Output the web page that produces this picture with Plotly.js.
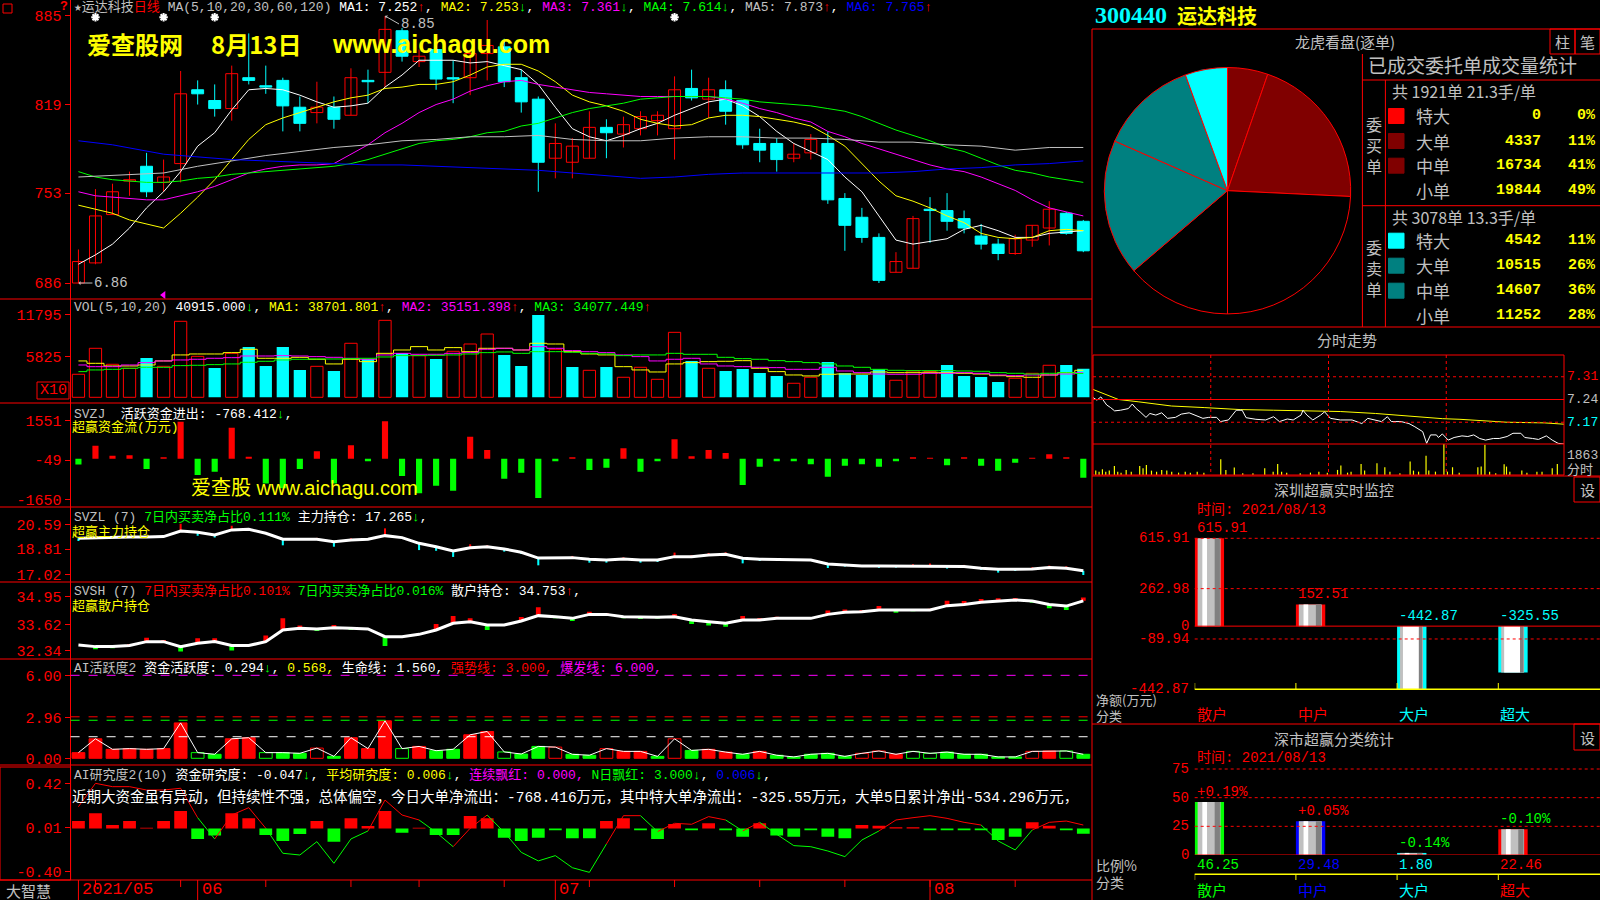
<!DOCTYPE html>
<html><head><meta charset="utf-8">
<script src="https://cdn.plot.ly/plotly-3.0.1.min.js"></script>
<style>html,body{margin:0;padding:0;background:#000;overflow:hidden}#chart{width:1600px;height:900px}</style>
</head><body><div id="chart"></div>
<script>
// ================= DATA =================
const dates=['2021-05-21','2021-05-24','2021-05-25','2021-05-26','2021-05-27','2021-05-28','2021-05-31','2021-06-01','2021-06-02','2021-06-03','2021-06-04','2021-06-07','2021-06-08','2021-06-09','2021-06-10','2021-06-11','2021-06-15','2021-06-16','2021-06-17','2021-06-18','2021-06-21','2021-06-22','2021-06-23','2021-06-24','2021-06-25','2021-06-28','2021-06-29','2021-06-30','2021-07-01','2021-07-02','2021-07-05','2021-07-06','2021-07-07','2021-07-08','2021-07-09','2021-07-12','2021-07-13','2021-07-14','2021-07-15','2021-07-16','2021-07-19','2021-07-20','2021-07-21','2021-07-22','2021-07-23','2021-07-26','2021-07-27','2021-07-28','2021-07-29','2021-07-30','2021-08-02','2021-08-03','2021-08-04','2021-08-05','2021-08-06','2021-08-09','2021-08-10','2021-08-11','2021-08-12','2021-08-13'];
const open=[6.86,7.01,7.37,7.62,7.73,7.61,7.75,8.30,8.22,8.16, 8.39,8.33,8.37,8.17,8.13,8.17,8.11,8.37,8.43,8.74, 8.51,8.60,8.39,8.39,8.57,8.62,8.39,8.23,7.79,7.76, 7.79,8.02,7.97,8.01,8.07,8.01,8.31,8.23,8.30,8.22, 7.90,7.90,7.79,7.83,7.90,7.49,7.35,7.20,6.94,6.97, 7.41,7.40,7.34,7.21,7.15,7.08,7.18,7.27,7.38,7.32];
const high=[7.11,7.56,7.60,7.69,7.83,7.78,8.44,8.37,8.34,8.48, 8.72,8.48,8.39,8.25,8.36,8.25,8.46,8.45,8.85,8.76, 8.60,8.63,8.52,8.60,8.82,8.68,8.45,8.25,8.05,7.94, 8.14,8.08,8.10,8.14,8.14,8.40,8.45,8.39,8.37,8.22, 8.01,7.94,7.90,7.97,7.99,7.53,7.42,7.23,7.09,7.36, 7.50,7.53,7.40,7.30,7.19,7.22,7.29,7.47,7.39,7.33];
const low=[6.86,7.00,7.37,7.51,7.50,7.54,7.61,8.19,8.10,8.07, 8.34,8.27,7.99,7.99,8.05,8.01,8.11,8.20,8.32,8.51, 8.47,8.30,8.20,8.26,8.37,8.32,8.13,7.54,7.64,7.64, 7.79,7.79,7.87,7.96,7.96,7.78,8.22,8.09,8.04,7.86, 7.76,7.69,7.76,7.78,7.45,7.10,7.16,6.86,6.94,6.97, 7.16,7.25,7.23,7.11,7.03,7.07,7.13,7.14,7.22,7.09];
const close=[7.02,7.36,7.54,7.63,7.54,7.65,8.27,8.27,8.16,8.42, 8.37,8.32,8.18,8.05,8.17,8.08,8.39,8.36,8.75,8.55, 8.55,8.38,8.38,8.57,8.63,8.36,8.21,7.76,7.90,7.88, 8.02,7.98,8.04,8.10,8.11,8.30,8.24,8.30,8.14,7.89, 7.85,7.78,7.82,7.93,7.48,7.29,7.20,6.88,7.02,7.34, 7.40,7.32,7.27,7.15,7.08,7.19,7.29,7.41,7.23,7.10];
const ma5=[7.00,7.07,7.15,7.27,7.42,7.54,7.69,7.88,7.98,8.15, 8.30,8.31,8.30,8.26,8.21,8.17,8.18,8.20,8.32,8.41, 8.52,8.52,8.52,8.50,8.51,8.48,8.45,8.34,8.17,8.01, 7.95,7.92,7.96,8.01,8.05,8.11,8.16,8.21,8.23,8.18, 8.10,7.99,7.90,7.84,7.78,7.65,7.54,7.36,7.18,7.15, 7.17,7.19,7.26,7.29,7.25,7.20,7.20,7.23,7.24,7.25];
const ma10=[7.44,7.41,7.38,7.33,7.30,7.27,7.38,7.50,7.63,7.78, 7.93,8.04,8.09,8.13,8.17,8.21,8.24,8.26,8.31,8.32, 8.34,8.34,8.36,8.41,8.47,8.49,8.49,8.44,8.36,8.26, 8.21,8.18,8.14,8.08,8.05,8.03,8.04,8.09,8.11,8.11, 8.10,8.08,8.06,8.03,7.96,7.88,7.75,7.62,7.51,7.47, 7.42,7.36,7.31,7.23,7.20,7.19,7.20,7.25,7.26,7.25];
const ma20=[7.54,7.51,7.50,7.49,7.48,7.48,7.51,7.54,7.58,7.63, 7.68,7.71,7.73,7.74,7.74,7.75,7.82,7.89,7.98,8.05, 8.13,8.19,8.23,8.29,8.33,8.36,8.37,8.34,8.32,8.30, 8.28,8.27,8.26,8.25,8.25,8.25,8.25,8.25,8.23,8.20, 8.16,8.13,8.09,8.06,7.99,7.95,7.90,7.86,7.82,7.78, 7.74,7.71,7.69,7.65,7.60,7.55,7.48,7.42,7.39,7.36];
const ma30=[7.69,7.65,7.63,7.62,7.61,7.61,7.62,7.64,7.65,7.67, 7.68,7.69,7.70,7.71,7.72,7.73,7.75,7.78,7.82,7.86, 7.90,7.92,7.93,7.95,7.98,7.99,8.03,8.05,8.09,8.13, 8.16,8.18,8.20,8.23,8.24,8.25,8.25,8.25,8.24,8.23, 8.21,8.20,8.19,8.18,8.16,8.14,8.10,8.05,8.00,7.96, 7.92,7.87,7.84,7.79,7.74,7.70,7.68,7.65,7.63,7.61];
const ma60=[7.65,null,7.66,null,null,7.68,null,7.73,null,7.77, null,7.81,null,7.84,null,7.87,null,7.89,null,7.92, null,7.93,null,7.95,null,7.95,null,7.96,null,7.93, null,7.92,null,7.92,null,7.94,null,7.95,null,7.95, null,7.94,null,7.94,null,7.93,null,7.91,null,7.91, null,7.89,null,7.88,null,7.85,null,7.87,null,7.87];
const ma120=[7.92,null,7.89,null,null,7.82,null,7.80,null,7.78, null,7.77,null,7.76,null,7.75,null,7.74,null,7.74, null,7.73,null,7.72,null,7.71,null,7.70,null,7.68, null,7.66,null,7.64,null,7.65,null,7.67,null,7.68, null,7.68,null,7.68,null,7.68,null,7.68,null,7.69, null,7.71,null,7.72,null,7.74,null,7.75,null,7.77];
const maLast=['7.252','7.253','7.361','7.614','7.873','7.765'];
const maUp=[true,false,false,false,true,true];
const priceTicks=[8.85,8.19,7.53,6.86], priceTickText=['885','819','753','686'];
const starDays=[1,5,8,35];
const markDays=[5];

const vol=[3300,7020,4730,4160,5640,4440,10890,5870,4200,6300, 7210,4490,7210,3920,4440,3770,7740,5490,11030,6350, 5970,5490,6590,7640,9070,6070,4490,11800,6880,4350, 3870,4350,2870,4300,2580,9310,5210,4160,3770,4060, 3490,3060,2010,2870,5060,3440,3200,4010,2440,3770, 3680,4630,3060,2910,2200,2720,3440,4590,4630,4092];
const volDir='RRRRCRRRCRCCCCRCRCRCRCRRRCCC'+'RCRCRRRRCRCCCCRRCCCCRRRCCCCRRRC'+'C';
const volMa5=[5210,4870,4490,4490,4630,5210,6070,6210,6210,6400, 6880,5590,5590,5730,5450,4780,5450,5110,6300,6780, 7260,6780,7120,6540,7020,7020,6780,7740,7640,6540, 6210,6070,4390,3920,3630,4780,4970,5110,5160,5250, 4160,3680,3200,3060,3300,3340,3340,3630,3530,3530, 3580,3530,3440,3340,3100,2960,2870,3200,3530,3870];
const volMa10=[4630,4390,4390,4630,4970,5210,5350,5450,5590,5680, 5920,5920,5970,5920,5830,5730,5590,5450,6070,6300, 6160,6160,6300,6400,6880,7020,6780,7260,7020,6690, 6540,6400,6070,5830,5210,5450,5590,4780,4490,4390, 4300,4250,4010,4010,4300,3770,3530,3340,3300,3300, 3440,3440,3530,3440,3200,3100,3200,3200,3340,3515];
const volMa20=[3680,3920,4010,4160,4300,4300,4540,4590,4680,4780, 5020,5160,5350,5450,5490,5490,5540,5590,5780,5970, 5970,6020,6070,6210,6400,6500,6300,6540,6540,6450, 6300,6210,5970,6070,6070,6300,6160,6160,5730,5540, 5450,5250,5110,4970,4780,4490,4300,4010,3870,3820, 3820,3820,3770,3730,3530,3440,3340,3440,3530,3408];
const volTicks=[11795,5825];

const svzj=[-230,529,122,149,-420,68,1505,-664,-529,1261, 81,-1003,-1200,-420,312,-1003,556,-95,1532,-705, -1400,-1100,-1300,895,353,-814,-570,-1600,-95,68, -461,-366,434,-529,-95,800,108,353,231,-1071, -325,-95,-95,-217,-732,-285,-217,-325,-95,68, 41,-258,68,-285,-488,-163,41,190,68,-768];
const svzjTicks=[1551,-49,-1650];

const svzl=[19.59,19.64,19.69,19.69,19.69,19.71,20.11,20.02,19.83,20.19, 20.23,19.95,19.52,19.52,19.52,19.35,19.47,19.52,19.78,19.64, 19.23,18.99,18.69,18.92,18.99,18.83,18.59,18.18,18.21,18.21, 18.09,18.04,18.11,18.04,18.04,18.28,18.28,18.40,18.45,18.16, 18.09,18.09,18.04,18.04,17.76,17.69,17.62,17.62,17.62,17.62, 17.62,17.62,17.57,17.45,17.38,17.38,17.40,17.50,17.45,17.27];
const svzlTick=[-0.19,0,0,0,0,0,0.52,-0.24,-0.19,0.29, 0,0,-0.43,0,0.1,-0.36,0.12,0,0.52,0, -0.48,-0.29,-0.43,0.24,0.1,-0.19,-0.12,-0.52,0,0.12, -0.24,-0.19,0.12,-0.19,-0.14,0.29,0.12,0.14,0.14,-0.36, -0.12,-0.12,0,0,-0.29,-0.12,0,-0.14,-0.12,0.12, 0.17,-0.19,0.12,-0.12,-0.24,-0.12,0.12,0.14,0.14,-0.3];
const svzlTicks=[20.59,18.81,17.02];

const svsh=[32.63,32.55,32.55,32.60,32.79,32.79,32.55,32.71,32.79,32.60, 32.60,32.79,33.35,33.43,33.40,33.46,33.43,33.40,33.03,33.03, 33.14,33.35,33.67,33.75,33.59,33.59,33.78,34.04,33.99,33.91, 34.10,34.10,33.99,33.96,33.96,33.99,33.83,33.75,33.67,33.83, 33.83,33.91,33.91,33.91,34.10,34.20,34.23,34.31,34.31,34.31, 34.31,34.52,34.58,34.68,34.74,34.79,34.74,34.58,34.50,34.75];
const svshTick=[0,-0.13,-0.08,0.08,0.19,0.08,-0.24,0.24,0.16,-0.24, 0,0.29,0.56,0.13,-0.1,0.13,-0.08,0,-0.45,0, 0.06,0.29,0.35,0.16,-0.24,0,0.19,0.40,-0.08,-0.13, 0.13,0.06,-0.08,-0.08,-0.06,0.13,-0.19,-0.19,-0.16,0.19, 0.1,0.08,0,0.06,0.19,0.13,0.08,0.19,-0.13,-0.06, 0.06,0.24,0.16,0.16,0.13,0.1,-0.08,-0.19,-0.19,0.16];
const svshTicks=[34.95,33.62,32.34];

const aiAct=[0.41,1.41,0.65,0.70,0.65,0.70,2.56,0.41,0.29,1.41, 1.49,0.41,0.41,0.36,0.74,0.14,1.49,0.70,2.71,0.70, 0.86,0.55,0.65,1.70,1.94,0.46,0.31,0.86,0.81,0.29, 0.22,0.70,0.50,0.50,0.14,1.41,0.57,0.65,0.45,0.29, 0.50,0.22,0.10,0.29,0.36,0.14,0.36,0.53,0.29,0.50, 0.36,0.45,0.29,0.29,0.10,0.10,0.50,0.53,0.53,0.29];
const aiActType='RRRRRRRgGR'+'RgGGrGRRRg'+'RGGRRgGGrG'+'GrRRGrGRRG'+'RGGGGGrrRg'+'gGGGGGrRgG';
const aiActLevels=[6.0,3.0,2.75,1.56];
const aiActTicks=[6,2.96,0], aiActTickText=['6.00','2.96','0.00'];

const aiRes=[0.070,0.142,0.033,0.070,0.008,0.070,0.163,-0.096,-0.065,0.142, 0.095,-0.059,-0.115,-0.050,0.070,-0.121,0.095,0.024,0.163,-0.038, 0.008,-0.059,-0.059,0.117,0.095,-0.084,-0.115,-0.084,-0.015,-0.090, -0.090,0.070,0.095,-0.015,-0.096,0.043,-0.015,0.049,-0.015,-0.075, 0.049,-0.065,-0.075,-0.015,-0.075,-0.090,0.033,0.027,0.012,0.012, -0.015,-0.015,-0.015,-0.015,-0.106,-0.075,0.058,0.027,-0.015,-0.047];
const aiResLine=[0.203,0.42,0.389,0.389,0.358,0.358,0.374,0.101,-0.096,0.126, 0.194,0.003,-0.229,-0.245,-0.121,-0.322,-0.096,-0.022,0.265,0.126, 0.080,-0.034,-0.168,0.003,0.126,-0.034,-0.220,-0.300,-0.251,-0.363, -0.406,-0.143,0.120,0.120,-0.028,0.049,0.040,0.111,0.080,-0.022, 0.058,-0.053,-0.158,-0.168,-0.208,-0.260,-0.106,-0.022,0.080,0.101, 0.120,0.095,0.058,0.033,-0.115,-0.198,-0.013,0.058,0.070,0.033];
const aiResTicks=[0.42,0.01,-0.40], aiResTickText=['0.42','0.01','-0.40'];

// right panel
const orderCats=['特大','大单','中单','小单'];
const buyVol=[0,4337,16734,19844], buyPct=['0%','11%','41%','49%'];
const sellVol=[4542,10515,14607,11252], sellPct=['11%','26%','36%','28%'];
const buySummary='共 1921单 21.3手/单', sellSummary='共 3078单 13.3手/单';

const tickMin=[0,2,4,6,7,9,11,14,18,20,22,24,26,27,29,32,35,38,42,45,49,52,56,59,63,65,69,71,73,76,78,83,88,92,95,99,102,106,107,109,112,116,118,121,126,132,137,140,144,147,150,152,157,161,164,168,170,172,175,176,178,181,184,188,191,194,197,200,204,207,211,214,218,220,224,227,231,234,237,240];
const tickPrice=[7.246,7.238,7.248,7.230,7.223,7.215,7.205,7.207,7.212,7.226,7.212,7.202,7.192,7.185,7.197,7.192,7.199,7.182,7.185,7.195,7.199,7.192,7.182,7.185,7.185,7.172,7.177,7.192,7.207,7.207,7.184,7.179,7.177,7.187,7.172,7.180,7.177,7.192,7.207,7.192,7.177,7.192,7.202,7.182,7.177,7.177,7.166,7.182,7.177,7.172,7.187,7.172,7.172,7.166,7.156,7.141,7.105,7.131,7.131,7.123,7.134,7.115,7.123,7.128,7.126,7.131,7.120,7.115,7.120,7.120,7.126,7.136,7.136,7.123,7.120,7.117,7.128,7.115,7.105,7.103];
const avgMin=[0,6,13,23,40,57,75,92,109,126,144,161,169,178,187,199,211,230,235,240];
const avgPrice=[7.271,7.256,7.240,7.233,7.220,7.215,7.209,7.207,7.205,7.203,7.197,7.189,7.185,7.181,7.179,7.175,7.170,7.168,7.165,7.164];
const tvMin=[1.4,3.1,4.8,6.5,8.3,10.9,12.6,14.3,16.9,19.5,23.8,25.5,27.2,29.8,32.4,35.0,37.6,40.1,43.6,47.0,49.6,53.1,56.5,65.1,67.7,72.0,76.3,81.5,87.5,91.8,94.1,96.1,98.7,105.6,110.8,115.1,119.4,124.6,126.3,129.7,131.5,136.6,138.4,144.7,148.7,151.3,156.4,161.6,163.3,165.9,169.7,171.1,174.5,178.8,180.6,183.2,186.6,196.1,197.8,199.7,202.1,205.2,209.5,210.7,212.4,218.5,221.1,226.2,228.8,234.0,236.6];
const tvVol=[263,202,344,202,263,547,202,142,304,202,547,405,607,263,202,304,263,202,142,202,142,202,142,952,304,445,101,101,405,202,668,202,142,101,142,202,142,304,567,142,202,668,263,709,466,202,101,810,263,202,1154,263,202,1863,202,466,142,466,506,1823,202,101,648,506,202,263,142,202,202,405,668];
const intraLevels=[7.31,7.24,7.17], intraVolMax=1863;

const flowCats=['散户','中户','大户','超大'];
const flowNet=[615.91,152.51,-442.87,-325.55];
const flowTicks=[615.91,262.98,0,-89.94,-442.87];
const ratioVal=[46.25,29.48,1.80,22.46];
const ratioChg=['+0.19%','+0.05%','-0.14%','-0.10%'];
const ratioTicks=[75,50,25,0];
const statDate='2021/08/13';

// ================= DRAWING =================
const W=1600,H=900;
const fx=p=>p/W, dom=(t,b)=>[1-b/H,1-t/H];
const RED='#FF0000',CYAN='#00FFFF',GRN='#00FF00',YEL='#FFFF00',MAG='#FF00FF',GRY='#C0C0C0',WHT='#FFFFFF',BLU='#0000FF',DKRED='#800000',TEAL='#008080';
const MONO='"Liberation Mono","DejaVu Sans Mono","Noto Sans CJK SC",monospace';
const CJK='"Noto Sans CJK SC","Liberation Sans",sans-serif';
const idx=dates.map((d,i)=>i);
const traces=[];
const NH='skip';

const isUp=i=>close[i]>=open[i];
function wick(cond,color){const X=[],Y=[];idx.forEach(i=>{if(cond(i)){X.push(i,i,null);Y.push(low[i],high[i],null);}});
  traces.push({type:'scatter',mode:'lines',x:X,y:Y,line:{color,width:1},xaxis:'x',yaxis:'y',hoverinfo:NH});}
wick(isUp,RED);wick(i=>!isUp(i),CYAN);
function body(cond,fill,lc){const X=[],B=[],Y=[];idx.forEach(i=>{if(cond(i)){let d=close[i]-open[i];if(Math.abs(d)<0.006)d=d<0?-0.006:0.006;X.push(i);B.push(open[i]);Y.push(d);}});
  traces.push({type:'bar',x:X,base:B,y:Y,width:0.7,marker:{color:fill,line:{color:lc,width:1}},xaxis:'x',yaxis:'y',hoverinfo:NH});}
body(isUp,'#000000',RED);body(i=>!isUp(i),CYAN,CYAN);
[[ma5,WHT],[ma10,YEL],[ma20,MAG],[ma30,GRN],[ma60,GRY],[ma120,BLU]].forEach(([a,c])=>traces.push({type:'scatter',mode:'lines',x:idx,y:a,connectgaps:true,line:{color:c,width:1},xaxis:'x',yaxis:'y',hoverinfo:NH}));
traces.push({type:'scatter',mode:'markers',x:starDays,y:starDays.map(()=>8.84),marker:{symbol:'asterisk-open',size:7,color:WHT,line:{color:WHT,width:2}},xaxis:'x',yaxis:'y',hoverinfo:NH});
traces.push({type:'scatter',mode:'markers',x:markDays,y:markDays.map(()=>6.77),marker:{symbol:'triangle-left',size:7,color:MAG},xaxis:'x',yaxis:'y',hoverinfo:NH});

const vu={x:[],y:[]},vd={x:[],y:[]};
idx.forEach(i=>{const t=volDir[i]==='R'?vu:vd;t.x.push(i);t.y.push(vol[i]);});
traces.push({type:'bar',x:vu.x,y:vu.y,width:0.72,marker:{color:'#000000',line:{color:RED,width:1}},xaxis:'x',yaxis:'y2',hoverinfo:NH});
traces.push({type:'bar',x:vd.x,y:vd.y,width:0.72,marker:{color:CYAN,line:{width:0}},xaxis:'x',yaxis:'y2',hoverinfo:NH});
[[volMa5,YEL],[volMa10,MAG],[volMa20,GRN]].forEach(([a,c])=>traces.push({type:'scatter',mode:'lines',x:idx,y:a,line:{color:c,width:1,shape:'hvh'},xaxis:'x',yaxis:'y2',hoverinfo:NH}));

traces.push({type:'bar',x:idx.filter(i=>svzj[i]>=0),y:svzj.filter(v=>v>=0),width:0.36,marker:{color:RED},xaxis:'x',yaxis:'y3',hoverinfo:NH});
traces.push({type:'bar',x:idx.filter(i=>svzj[i]<0),y:svzj.filter(v=>v<0),width:0.36,marker:{color:GRN},xaxis:'x',yaxis:'y3',hoverinfo:NH});

function lineTicks(line,ticks,ya,upC,dnC,w){
  traces.push({type:'scatter',mode:'lines',x:idx,y:line,line:{color:WHT,width:3},xaxis:'x',yaxis:ya,hoverinfo:NH});
  [[v=>v>0,upC],[v=>v<0,dnC]].forEach(([f,c])=>{const I=idx.filter(i=>f(ticks[i]));
    traces.push({type:'bar',x:I,base:I.map(i=>line[i]),y:I.map(i=>ticks[i]),width:w,marker:{color:c,line:{width:0}},xaxis:'x',yaxis:ya,hoverinfo:NH});});
}
lineTicks(svzl,svzlTick,'y4',RED,CYAN,0.12);
lineTicks(svsh,svshTick,'y5',RED,GRN,0.28);

const actStyle={R:{c:RED,l:RED},r:{c:'#000000',l:RED},G:{c:GRN,l:GRN},g:{c:'#000000',l:GRN}};
Object.keys(actStyle).forEach(k=>{const I=idx.filter(i=>aiActType[i]===k);
  traces.push({type:'bar',x:I,y:I.map(i=>aiAct[i]),width:0.75,marker:{color:actStyle[k].c,line:{color:actStyle[k].l,width:1}},xaxis:'x',yaxis:'y6',hoverinfo:NH});});
traces.push({type:'scatter',mode:'lines',x:idx,y:aiAct,line:{color:WHT,width:1},xaxis:'x',yaxis:'y6',hoverinfo:NH});

traces.push({type:'bar',x:idx.filter(i=>aiRes[i]>=0),y:aiRes.filter(v=>v>=0),width:0.75,marker:{color:RED},xaxis:'x',yaxis:'y7',hoverinfo:NH});
traces.push({type:'bar',x:idx.filter(i=>aiRes[i]<0),y:aiRes.filter(v=>v<0),width:0.75,marker:{color:GRN},xaxis:'x',yaxis:'y7',hoverinfo:NH});
const rR={x:[],y:[]},rG={x:[],y:[]};
for(let i=0;i<aiResLine.length-1;i++){const t=aiResLine[i+1]>=0?rR:rG;t.x.push(i,i+1,null);t.y.push(aiResLine[i],aiResLine[i+1],null);}
traces.push({type:'scatter',mode:'lines',x:rR.x,y:rR.y,line:{color:RED,width:1},xaxis:'x',yaxis:'y7',hoverinfo:NH});
traces.push({type:'scatter',mode:'lines',x:rG.x,y:rG.y,line:{color:GRN,width:1},xaxis:'x',yaxis:'y7',hoverinfo:NH});

const buyCol=['#FF0000',DKRED,DKRED,'#000000'], sellCol=[CYAN,TEAL,TEAL,'#000000'];
traces.push({type:'pie',values:buyVol.concat(sellVol.slice().reverse()),labels:orderCats.map(c=>'买'+c).concat(orderCats.slice().reverse().map(c=>'卖'+c)),
  marker:{colors:buyCol.concat(sellCol.slice().reverse()),line:{color:RED,width:1}},sort:false,direction:'clockwise',rotation:0,textinfo:'none',hoverinfo:NH,
  domain:{x:[fx(1104.3),fx(1350.7)],y:dom(67.4,314)}});

traces.push({type:'bar',x:tvMin,y:tvVol,width:0.6,marker:{color:YEL,line:{width:0}},xaxis:'x8',yaxis:'y9',hoverinfo:NH});
traces.push({type:'scatter',mode:'lines',x:avgMin,y:avgPrice,line:{color:YEL,width:1},xaxis:'x8',yaxis:'y8',hoverinfo:NH});
traces.push({type:'scatter',mode:'lines',x:tickMin,y:tickPrice,line:{color:WHT,width:1},xaxis:'x8',yaxis:'y8',hoverinfo:NH});

const BW=0.29;
function stripes(vals,edge,xa,ya,whiteNeg){
  const layers=[[0,1,null],[0.1,0.88,'#C0C0C0'],[0.68,0.86,'#808080'],['w','w',WHT]];
  layers.forEach(([a,b,c])=>{
    const A=vals.map(v=>a==='w'?(v<0&&whiteNeg?0.2:0.26):a), B=vals.map(v=>b==='w'?(v<0&&whiteNeg?0.74:0.42):b);
    traces.push({type:'bar',x:vals.map((v,i)=>i+(A[i]+B[i])/2*BW),y:vals,width:vals.map((v,i)=>(B[i]-A[i])*BW),marker:{color:c||edge,line:{width:0}},xaxis:xa,yaxis:ya,hoverinfo:NH});
  });
}
const flowEdge=flowNet.map(v=>v>=0?RED:CYAN);
stripes(flowNet,flowEdge,'x10','y10',true);
const ratioEdge=[GRN,BLU,CYAN,RED];
stripes(ratioVal,ratioEdge,'x11','y11',false);

// ================= AXES =================
function leftAxis(d,range,vals,text){return {domain:d,range,anchor:'x',tickvals:vals,ticktext:text,ticks:'outside',ticklen:5,tickcolor:RED,tickwidth:1,
  tickfont:{family:MONO,size:15,color:RED},showline:true,linecolor:RED,linewidth:1,showgrid:false,zeroline:false,fixedrange:true};}
const hid=(d,range,anchor)=>({domain:d,range,anchor,visible:false,showgrid:false,zeroline:false,fixedrange:true});
const layout={width:W,height:H,margin:{l:0,r:0,t:0,b:0,pad:0},paper_bgcolor:'#000',plot_bgcolor:'rgba(0,0,0,0)',showlegend:false,barmode:'overlay',hovermode:false,
  font:{family:MONO,color:GRY,size:13},
  xaxis:{domain:[fx(70.6),fx(1092)],range:[-0.46,59.51],anchor:'y7',visible:false,rangeslider:{visible:false},fixedrange:true},
  yaxis:leftAxis(dom(0,299),[6.741,8.969],priceTicks,priceTickText),
  yaxis2:leftAxis(dom(299,403),[-816,14086],volTicks,volTicks.map(String)),
  yaxis3:leftAxis(dom(403,507),[-1962,2271],svzjTicks,svzjTicks.map(String)),
  yaxis4:leftAxis(dom(507,582),[16.47,21.825],svzlTicks,svzlTicks.map(v=>v.toFixed(2))),
  yaxis5:leftAxis(dom(582,659),[31.955,35.657],svshTicks,svshTicks.map(v=>v.toFixed(2))),
  yaxis6:leftAxis(dom(659,765),[-0.484,7.18],aiActTicks,aiActTickText),
  yaxis7:leftAxis(dom(765,880),[-0.477,0.590],aiResTicks,aiResTickText),
  xaxis8:hid([fx(1093),fx(1564)],[0,240],'y9'),
  yaxis8:hid(dom(355,444),[7.103,7.377],'x8'),
  yaxis9:hid(dom(444,475),[0,intraVolMax],'x8'),
  xaxis10:hid([fx(1194.7),fx(1599.5)],[0,4],'y10'),
  yaxis10:hid(dom(520,695),[-482.8,744.2],'x10'),
  xaxis11:hid([fx(1194.7),fx(1599.5)],[0,4],'y11'),
  yaxis11:hid(dom(760,855),[0,82.85],'x11')
};

// ================= SHAPES =================
const shapes=[];
const Lp=(x0,y0,x1,y1,c,w=1,dash='solid')=>shapes.push({type:'line',xref:'paper',yref:'paper',x0:fx(x0),y0:1-y0/H,x1:fx(x1),y1:1-y1/H,line:{color:c,width:w,dash}});
const Rp=(x0,y0,x1,y1,c,fill)=>shapes.push({type:'rect',xref:'paper',yref:'paper',x0:fx(x0),y0:1-y0/H,x1:fx(x1),y1:1-y1/H,line:{color:c,width:1},fillcolor:fill||'rgba(0,0,0,0)'});
[299,403,507,582,659,765,880].forEach(y=>Lp(0,y,1092,y,RED));
Lp(1092,29,1092,900,RED);
[29,327,476,724].forEach(y=>Lp(1092,y,1600,y,RED));
Rp(0,767,70.6,880,RED);
Rp(37,382,69,399,RED);
Rp(3,4,12,13,RED);
const lvlCol=[MAG,RED,GRN,WHT];
aiActLevels.forEach((v,k)=>shapes.push({type:'line',xref:'paper',yref:'y6',x0:fx(70.6),x1:fx(1092),y0:v,y1:v,line:{color:lvlCol[k],width:1,dash:'dash'}}));
const dow=dates.map(d=>new Date(d+'T00:00:00Z').getUTCDay());
const monthStarts=idx.filter(i=>i===0||dates[i].slice(5,7)!==dates[i-1].slice(5,7));
const weekStarts=idx.filter(i=>i>0&&dow[i]<dow[i-1]);
weekStarts.forEach(i=>shapes.push({type:'line',xref:'x',yref:'paper',x0:i,x1:i,y0:1-880/H,y1:1-887/H,line:{color:RED,width:1}}));
monthStarts.forEach(i=>shapes.push({type:'line',xref:'x',yref:'paper',x0:i,x1:i,y0:1-880/H,y1:0,line:{color:RED,width:1}}));
Lp(1362.4,54,1362.4,327,RED);Lp(1362.4,80,1600,80,RED);Lp(1385.4,80,1385.4,327,RED);Lp(1362.4,205.7,1600,205.7,RED);
Rp(1550,29,1575,54,RED);Rp(1575,29,1600,54,RED);
const rowsBuy=[116,141,165.7,190.7], rowsSell=[240.7,265.7,290.7,315.7];
orderCats.forEach((c,k)=>{ if(buyCol[k]!=='#000000') Rp(1388.5,rowsBuy[k]-7.5,1404,rowsBuy[k]+7.5,buyCol[k],buyCol[k]);
  if(sellCol[k]!=='#000000') Rp(1388.5,rowsSell[k]-7.5,1404,rowsSell[k]+7.5,sellCol[k],sellCol[k]); });
Rp(1093,355,1564,475,RED);
Lp(1093,444,1564,444,RED);
intraLevels.forEach((v,k)=>shapes.push({type:'line',xref:'paper',yref:'y8',x0:fx(1093),x1:fx(1564),y0:v,y1:v,line:{color:RED,width:1,dash:k===1?'solid':'dot'}}));
[60,120,180].forEach(m=>shapes.push({type:'line',xref:'x8',yref:'paper',x0:m,x1:m,y0:1-355/H,y1:1-475/H,line:{color:RED,width:1,dash:'dot'}}));
flowTicks.forEach((v,k)=>{ const last=k===flowTicks.length-1;
  shapes.push({type:'line',xref:'paper',yref:'y10',x0:fx(1194.7),x1:1,y0:v,y1:v,line:{color:last?YEL:RED,width:last?1.5:1,dash:(v===0||last)?'solid':'dot'}}); });
flowCats.forEach((c,i)=>shapes.push({type:'line',xref:'x10',yref:'paper',x0:i,x1:i,y0:1-683/H,y1:1-689/H,line:{color:YEL,width:1}}));
Rp(1574,477,1600,502,RED);
ratioTicks.forEach(v=>shapes.push({type:'line',xref:'paper',yref:'y11',x0:fx(1194.7),x1:1,y0:v,y1:v,line:{color:RED,width:1,dash:v===0?'solid':'dot'}}));
Lp(1194.7,874.3,1600,874.3,YEL,1.5);
ratioVal.forEach((v,i)=>shapes.push({type:'line',xref:'x11',yref:'paper',x0:i,x1:i,y0:1-874.3/H,y1:1-880/H,line:{color:YEL,width:1}}));
Rp(1574,724,1600,750,RED);
layout.shapes=shapes;

// ================= TEXT =================
const ann=[];
const S=(c,t)=>`<span style="color:${c}">${t}</span>`;
function T(x,y,text,color,size,anchor,family){ann.push({xref:'paper',yref:'paper',x:fx(x),y:1-y/H,text,showarrow:false,xanchor:anchor||'left',yanchor:'middle',font:{family:family||MONO,size:size||13,color:color||GRY}});}
const sp='&nbsp;';
const arrow=u=>u?S(RED,'↑'):S(GRN,'↓');
const maCol=[WHT,YEL,MAG,GRN,GRY,BLU];
let hdr=S(GRY,'★运达科技')+S(RED,'日线')+S(GRY,sp+'MA(5,10,20,30,60,120)'+sp);
maLast.forEach((v,k)=>{hdr+=S(maCol[k],'MA'+(k+1)+':'+sp+v)+arrow(maUp[k])+(k<5?S(WHT,','+sp):'');});
T(72,8,hdr,GRY,13);
T(64,6,'<b>?</b>',RED,13,'center');
T(85,44,'<b>爱查股网</b>',YEL,24,'left',CJK);
T(209,44,'<b>8月13日</b>',YEL,24,'left',CJK);
T(330,44,'<b>www.aichagu.com</b>',YEL,25,'left','"Liberation Sans",sans-serif');
const hiI=high.indexOf(Math.max(...high)), loI=low.indexOf(Math.min(...low));
ann.push({xref:'x',yref:'y',x:hiI,y:high[hiI],text:high[hiI].toFixed(2),showarrow:true,arrowhead:1,arrowsize:0.7,arrowwidth:1,arrowcolor:GRY,ax:14,ay:8,xanchor:'left',yanchor:'middle',font:{family:MONO,size:14,color:GRY}});
ann.push({xref:'x',yref:'y',x:loI,y:low[loI],text:low[loI].toFixed(2),showarrow:true,arrowhead:1,arrowsize:0.7,arrowwidth:1,arrowcolor:GRY,ax:14,ay:0,xanchor:'left',yanchor:'middle',font:{family:MONO,size:14,color:GRY}});
T(72,307,S(GRY,'VOL(5,10,20)'+sp)+S(WHT,'40915.000')+S(GRN,'↓')+S(WHT,','+sp)+S(YEL,'MA1:'+sp+'38701.801')+S(RED,'↑')+S(WHT,','+sp)+S(MAG,'MA2:'+sp+'35151.398')+S(RED,'↑')+S(WHT,','+sp)+S(GRN,'MA3:'+sp+'34077.449')+S(RED,'↑'),GRY,13);
T(53,390.5,'X10',RED,15,'center');
T(72,414,S(GRY,'SVZJ'+sp+sp)+S(WHT,'活跃资金进出:'+sp+'-768.412')+S(GRN,'↓')+S(WHT,','),GRY,13);
T(70,427,'超赢资金流(万元)',YEL,13);
T(189,488,'爱查股'+sp+'www.aichagu.com',YEL,20,'left','"Liberation Sans","Noto Sans CJK SC",sans-serif');
T(72,517,S(GRY,'SVZL'+sp+'(7)'+sp)+S(GRN,'7日内买卖净占比0.111%')+S(WHT,sp+'主力持仓:'+sp+'17.265')+S(GRN,'↓')+S(WHT,','),GRY,13);
T(70,532,'超赢主力持仓',YEL,13);
T(72,591,S(GRY,'SVSH'+sp+'(7)'+sp)+S(RED,'7日内买卖净占比0.101%')+S(GRN,sp+'7日内买卖净占比0.016%')+S(WHT,sp+'散户持仓:'+sp+'34.753')+S(RED,'↑')+S(WHT,','),GRY,13);
T(70,606,'超赢散户持仓',YEL,13);
T(72,668,S(GRY,'AI活跃度2'+sp)+S(WHT,'资金活跃度:'+sp+'0.294')+S(GRN,'↓')+S(WHT,','+sp)+S(YEL,'0.568,'+sp)+S(WHT,'生命线:'+sp+'1.560,'+sp)+S(RED,'强势线:'+sp+'3.000,'+sp)+S(MAG,'爆发线:'+sp+'6.000,'),GRY,13);
T(72,775,S(GRY,'AI研究度2(10)'+sp)+S(WHT,'资金研究度:'+sp+'-0.047')+S(GRN,'↓')+S(WHT,','+sp)+S(YEL,'平均研究度:'+sp+'0.006')+S(GRN,'↓')+S(WHT,','+sp)+S(MAG,'连续飘红:'+sp+'0.000,'+sp)+S(GRN,'N日飘红:'+sp+'3.000↓')+S(WHT,','+sp)+S(BLU,'0.006')+S(GRN,'↓')+S(WHT,','),GRY,13);
T(70,797,'近期大资金虽有异动，但持续性不强，总体偏空，今日大单净流出：-768.416万元，其中特大单净流出：-325.55万元，大单5日累计净出-534.296万元，',WHT,14.5);
T(4,890.5,'大智慧',GRY,15,'left',CJK);
monthStarts.forEach((i,k)=>ann.push({xref:'x',yref:'paper',x:i,y:1-889/H,xshift:2,text:k===0?dates[i].slice(0,4)+'/'+dates[i].slice(5,7):dates[i].slice(5,7),showarrow:false,xanchor:'left',yanchor:'middle',font:{family:MONO,size:17,color:RED}}));

T(1093,15,'<b>300440</b>',CYAN,24,'left','"Liberation Serif",serif');
T(1175,15,'<b>运达科技</b>',YEL,20,'left',CJK);
T(1345,41,'龙虎看盘(逐单)',GRY,15,'center',CJK);
T(1562.5,41,'柱',GRY,15,'center',CJK);T(1587.5,41,'笔',GRY,15,'center',CJK);
T(1366,65,'已成交委托单成交量统计',GRY,19,'left',CJK);
T(1390,90.7,buySummary,GRY,16,'left',CJK);
T(1390,216.7,sellSummary,GRY,16,'left',CJK);
T(1374,145,'委<br>买<br>单',GRY,16,'center',CJK);
T(1374,268,'委<br>卖<br>单',GRY,16,'center',CJK);
orderCats.forEach((c,k)=>{
  T(1414,rowsBuy[k],c,GRY,17,'left',CJK); T(1543,rowsBuy[k],'<b>'+buyVol[k]+'</b>',YEL,15,'right'); T(1598,rowsBuy[k],'<b>'+buyPct[k]+'</b>',YEL,15,'right');
  T(1414,rowsSell[k],c,GRY,17,'left',CJK); T(1543,rowsSell[k],'<b>'+sellVol[k]+'</b>',YEL,15,'right'); T(1598,rowsSell[k],'<b>'+sellPct[k]+'</b>',YEL,15,'right');
});
T(1347,339,'分时走势',GRY,15,'center',CJK);
const lvlTxt=[RED,GRY,CYAN];
intraLevels.forEach((v,k)=>ann.push({xref:'paper',yref:'y8',x:fx(1565),y:v,text:v.toFixed(2),showarrow:false,xanchor:'left',yanchor:'middle',font:{family:MONO,size:13,color:lvlTxt[k]}}));
T(1565,455,String(intraVolMax),GRY,13);
T(1565,468,'分时',GRY,13,'left',CJK);

T(1334,489,'深圳超赢实时监控',GRY,15,'center',CJK);
T(1587,489.5,'设',GRY,15,'center',CJK);
T(1194.7,510,'时间:'+sp+statDate,RED,14);
flowTicks.forEach(v=>ann.push({xref:'paper',yref:'y10',x:fx(1191),y:v,text:v===0?'0':v.toFixed(2),showarrow:false,xanchor:'right',yanchor:'middle',font:{family:MONO,size:14,color:RED}}));
flowNet.forEach((v,i)=>ann.push({xref:'x10',yref:'y10',x:i,y:v>=0?v:0,yshift:10,text:v.toFixed(2),showarrow:false,xanchor:'left',yanchor:'middle',font:{family:MONO,size:14,color:flowEdge[i]}}));
flowCats.forEach((c,i)=>ann.push({xref:'x10',yref:'paper',x:i,y:1-713/H,text:c,showarrow:false,xanchor:'left',yanchor:'middle',font:{family:CJK,size:15,color:flowEdge[i]}}));
T(1094,699,'净额(万元)',GRY,13,'left',CJK);
T(1094,715,'分类',GRY,13,'left',CJK);

T(1334,738,'深市超赢分类统计',GRY,15,'center',CJK);
T(1587,737,'设',GRY,15,'center',CJK);
T(1194.7,758.3,'时间:'+sp+statDate,RED,14);
ratioTicks.forEach(v=>ann.push({xref:'paper',yref:'y11',x:fx(1191),y:v,text:String(v),showarrow:false,xanchor:'right',yanchor:'middle',font:{family:MONO,size:14,color:RED}}));
ratioVal.forEach((v,i)=>{
  ann.push({xref:'x11',yref:'y11',x:i,y:v,yshift:10,text:ratioChg[i],showarrow:false,xanchor:'left',yanchor:'middle',font:{family:MONO,size:14,color:ratioChg[i][0]==='+'?RED:GRN}});
  ann.push({xref:'x11',yref:'paper',x:i,y:1-865/H,text:v.toFixed(2),showarrow:false,xanchor:'left',yanchor:'middle',font:{family:MONO,size:14,color:ratioEdge[i]}});
  ann.push({xref:'x11',yref:'paper',x:i,y:1-889/H,text:flowCats[i],showarrow:false,xanchor:'left',yanchor:'middle',font:{family:CJK,size:15,color:ratioEdge[i]}});
});
T(1094,865,'比例%',GRY,14,'left',CJK);
T(1094,882,'分类',GRY,14,'left',CJK);
layout.annotations=ann;

Plotly.newPlot('chart',traces,layout,{staticPlot:true,displayModeBar:false});
</script>
</body></html>
